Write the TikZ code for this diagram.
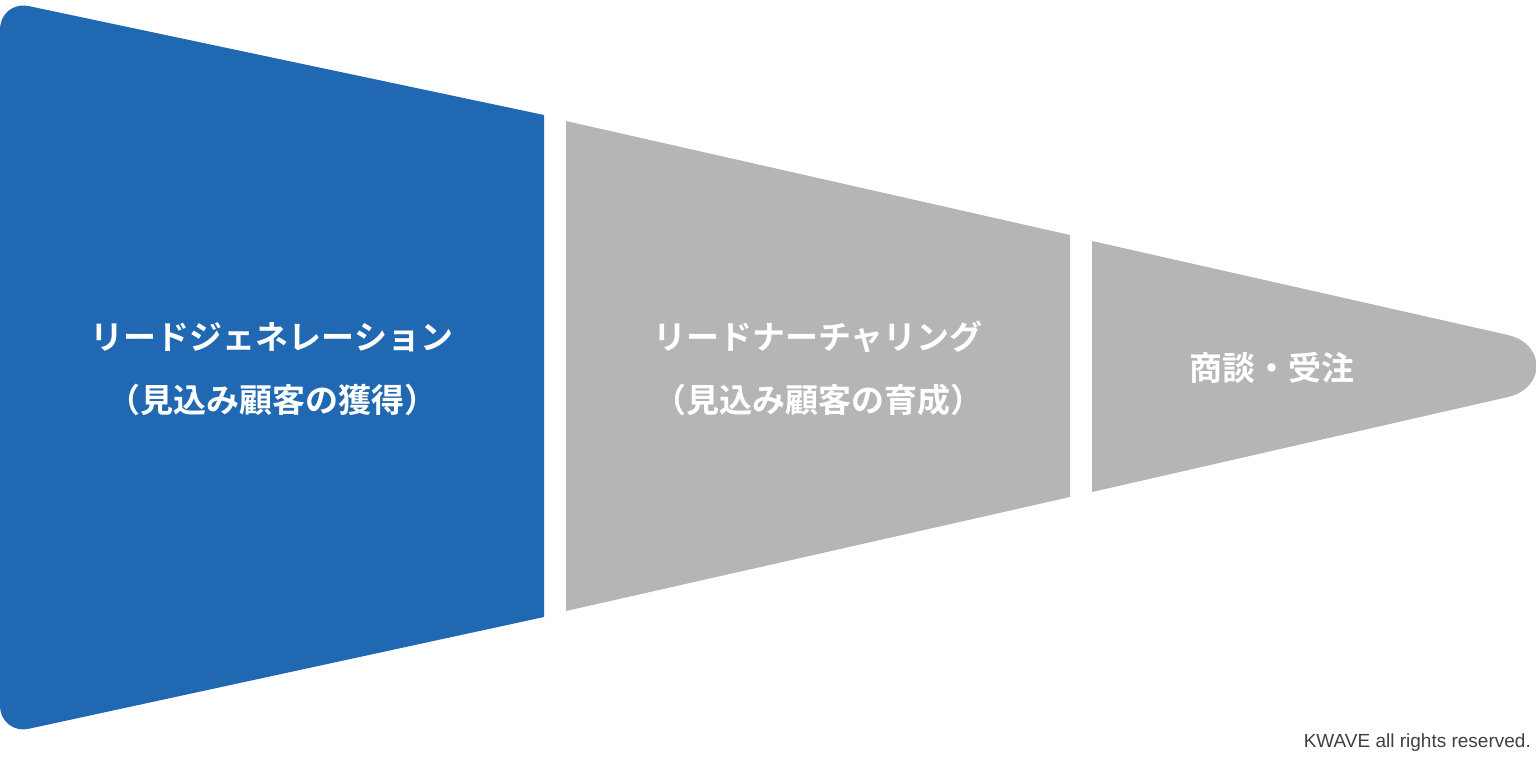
\documentclass[tikz,border=0pt]{standalone}
\usepackage{fontspec}
\newfontfamily\jpfont{Noto Sans CJK JP}[BoldFont={* Bold}]
\setmainfont{Liberation Sans}
\definecolor{leadblue}{HTML}{2068B1}
\definecolor{stagegrey}{HTML}{B5B5B5}
\begin{document}
\begin{tikzpicture}[x=1pt,y=-1pt,
    every node/.style={inner sep=0pt},
    stagetext/.style={text=white,font=\jpfont\bfseries\fontsize{33}{36}\selectfont}]
        \useasboundingbox (0,0) rectangle (1536,756);
        % funnel stages
        \fill[leadblue] (544,115) [rounded corners=30] -- (0,0) -- (0,735) [sharp corners] -- (544,617) -- cycle;
        \fill[stagegrey] (566,121) -- (1070,235) -- (1070,497) -- (566,611) -- cycle;
        \fill[stagegrey] (1092,241) -- (1508,335) .. controls (1546,344) and (1546,388) .. (1508,397) -- (1092,492) -- cycle;

        % labels
        \node[stagetext] (gen) at (272,337) {リードジェネレーション};
        \node[stagetext] (gensub) at (272,400) {（見込み顧客の獲得）};
        \node[stagetext] (nur) at (818,337) {リードナーチャリング};
        \node[stagetext] (nursub) at (818,400) {（見込み顧客の育成）};
        \node[stagetext] (deal) at (1272,368) {商談・受注};

        \node[text=black!75,font=\fontsize{19}{22}\selectfont,anchor=east] (credit) at (1531,743) {KWAVE all rights reserved.};
\end{tikzpicture}
\end{document}
